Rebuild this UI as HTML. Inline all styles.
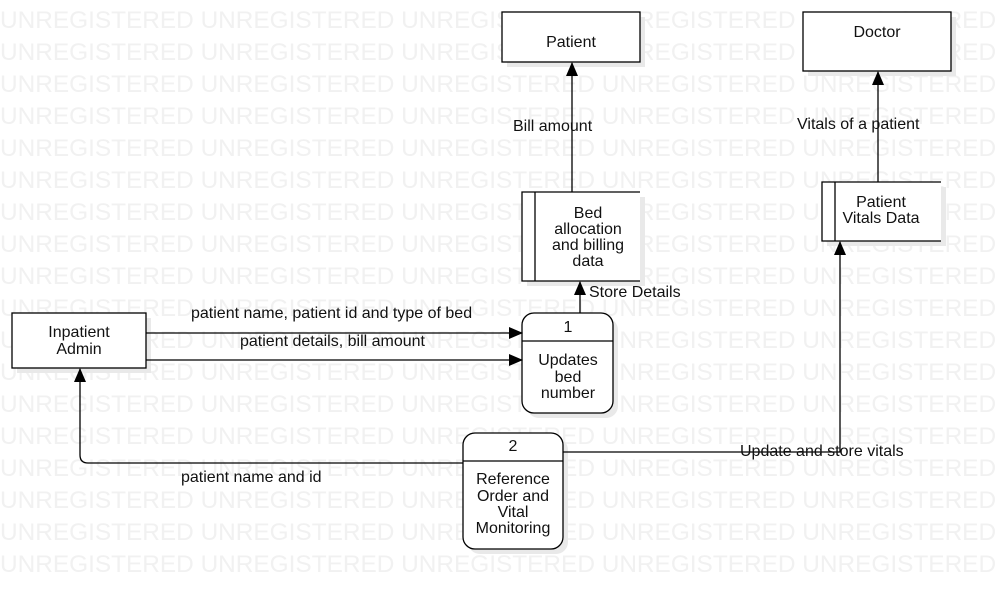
<!DOCTYPE html>
<html><head><meta charset="utf-8"><style>
html,body{margin:0;padding:0;background:#fff;}
svg{display:block;}
.wm{font-family:"Liberation Sans",sans-serif;font-size:24.4px;fill:#f1f1f1;}
.t{font-family:"Liberation Sans",sans-serif;font-size:16px;fill:#111;}
</style></head><body>
<svg width="1001" height="600" viewBox="0 0 1001 600" xmlns="http://www.w3.org/2000/svg">
<defs><marker id="a" markerWidth="14" markerHeight="12" refX="13" refY="6" orient="auto" markerUnits="userSpaceOnUse"><path d="M0,0 L14,6 L0,12 Z" fill="#000"/></marker></defs>
<g class="wm">
<text x="0" y="28">UNREGISTERED UNREGISTERED UNREGISTERED UNREGISTERED UNREGISTERED</text>
<text x="0" y="60">UNREGISTERED UNREGISTERED UNREGISTERED UNREGISTERED UNREGISTERED</text>
<text x="0" y="92">UNREGISTERED UNREGISTERED UNREGISTERED UNREGISTERED UNREGISTERED</text>
<text x="0" y="124">UNREGISTERED UNREGISTERED UNREGISTERED UNREGISTERED UNREGISTERED</text>
<text x="0" y="156">UNREGISTERED UNREGISTERED UNREGISTERED UNREGISTERED UNREGISTERED</text>
<text x="0" y="188">UNREGISTERED UNREGISTERED UNREGISTERED UNREGISTERED UNREGISTERED</text>
<text x="0" y="220">UNREGISTERED UNREGISTERED UNREGISTERED UNREGISTERED UNREGISTERED</text>
<text x="0" y="252">UNREGISTERED UNREGISTERED UNREGISTERED UNREGISTERED UNREGISTERED</text>
<text x="0" y="284">UNREGISTERED UNREGISTERED UNREGISTERED UNREGISTERED UNREGISTERED</text>
<text x="0" y="316">UNREGISTERED UNREGISTERED UNREGISTERED UNREGISTERED UNREGISTERED</text>
<text x="0" y="348">UNREGISTERED UNREGISTERED UNREGISTERED UNREGISTERED UNREGISTERED</text>
<text x="0" y="380">UNREGISTERED UNREGISTERED UNREGISTERED UNREGISTERED UNREGISTERED</text>
<text x="0" y="412">UNREGISTERED UNREGISTERED UNREGISTERED UNREGISTERED UNREGISTERED</text>
<text x="0" y="444">UNREGISTERED UNREGISTERED UNREGISTERED UNREGISTERED UNREGISTERED</text>
<text x="0" y="476">UNREGISTERED UNREGISTERED UNREGISTERED UNREGISTERED UNREGISTERED</text>
<text x="0" y="508">UNREGISTERED UNREGISTERED UNREGISTERED UNREGISTERED UNREGISTERED</text>
<text x="0" y="540">UNREGISTERED UNREGISTERED UNREGISTERED UNREGISTERED UNREGISTERED</text>
<text x="0" y="572">UNREGISTERED UNREGISTERED UNREGISTERED UNREGISTERED UNREGISTERED</text>
</g>
<g fill="#e9e9e9">
<rect x="17" y="318" width="134" height="55"/>
<rect x="507" y="17" width="138" height="50"/>
<rect x="808" y="17" width="148" height="59"/>
<rect x="527" y="197" width="118" height="89"/>
<rect x="827" y="187" width="119" height="59"/>
<rect x="527" y="318" width="91" height="100" rx="12"/>
<rect x="468" y="438" width="100" height="116" rx="12"/>
</g>
<g fill="#fff" stroke="#000" stroke-width="1.3">
<rect x="12" y="313" width="134" height="55"/>
<rect x="502" y="12" width="138" height="50"/>
<rect x="803" y="12" width="148" height="59"/>
<rect x="522" y="313" width="91" height="100" rx="12"/>
<rect x="463" y="433" width="100" height="116" rx="12"/>
</g>
<rect x="522" y="192" width="118" height="89" fill="#fff"/>
<rect x="822" y="182" width="119" height="59" fill="#fff"/>
<g fill="none" stroke="#000" stroke-width="1.3">
<path d="M640,192 H522 V281 H640"/>
<path d="M535,192 V281"/>
<path d="M941,182 H822 V241 H941"/>
<path d="M835,182 V241"/>
<path d="M522,341 H613"/>
<path d="M463,461 H563"/>
<path d="M146,333 H522" marker-end="url(#a)"/>
<path d="M146,360 H522" marker-end="url(#a)"/>
<path d="M580,313 V282" marker-end="url(#a)"/>
<path d="M572,192 V63" marker-end="url(#a)"/>
<path d="M878,182 V72" marker-end="url(#a)"/>
<path d="M563,452 H840 V242" marker-end="url(#a)"/>
<path d="M463,463 H88 Q80,463 80,455 V369" marker-end="url(#a)"/>
</g>
<g class="t" text-anchor="middle">
<text x="571" y="47">Patient</text>
<text x="877" y="37">Doctor</text>
<text x="79" y="337">Inpatient</text>
<text x="79" y="354">Admin</text>
<text x="588" y="218">Bed</text>
<text x="588" y="234">allocation</text>
<text x="588" y="250">and billing</text>
<text x="588" y="266">data</text>
<text x="881" y="207">Patient</text>
<text x="881" y="223">Vitals Data</text>
<text x="568" y="332">1</text>
<text x="568" y="365">Updates</text>
<text x="568" y="382">bed</text>
<text x="568" y="398">number</text>
<text x="513" y="451">2</text>
<text x="513" y="484">Reference</text>
<text x="513" y="501">Order and</text>
<text x="513" y="517">Vital</text>
<text x="513" y="533">Monitoring</text>
</g>
<g class="t">
<text x="513" y="131">Bill amount</text>
<text x="797" y="129">Vitals of a patient</text>
<text x="589" y="297">Store Details</text>
<text x="191" y="318">patient name, patient id and type of bed</text>
<text x="240" y="346">patient details, bill amount</text>
<text x="181" y="482">patient name and id</text>
<text x="740" y="456">Update and store vitals</text>
</g>
</svg>
</body></html>
